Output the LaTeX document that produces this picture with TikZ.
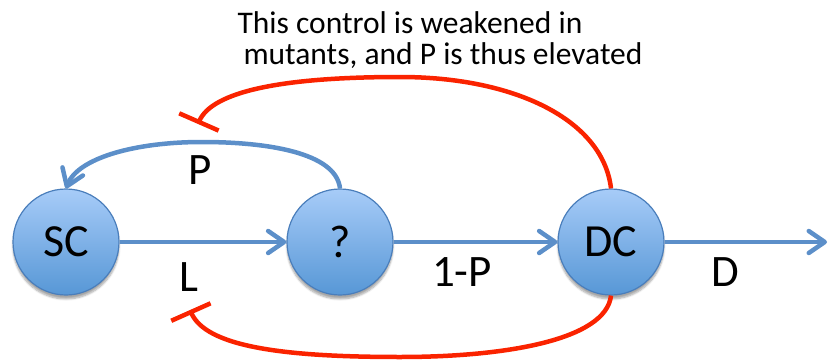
\documentclass[tikz,border=0pt]{standalone}
\usepackage{fontspec}
\setmainfont{Carlito}
\usetikzlibrary{arrows.meta,shadows.blur}
\definecolor{cellTop}{HTML}{A7CCF8}
\definecolor{cellBot}{HTML}{5797D6}
\definecolor{cellEdge}{HTML}{4A7EBB}
\definecolor{flowBlue}{HTML}{5C8FC9}
\definecolor{inhibRed}{HTML}{FA2300}
\tikzset{
  cell/.style={circle, minimum size=106pt, inner sep=0pt, draw=cellEdge, line width=1.2pt,
    top color=cellTop, bottom color=cellBot,
    blur shadow={shadow xshift=0pt, shadow yshift=-4pt, shadow blur steps=6, shadow opacity=35},
    font=\fontsize{46}{52}\selectfont},
  flow/.style={draw=flowBlue, line width=4.5pt, -{Straight Barb[length=16pt,width=22pt,line width=4.5pt,round]}},
  inhib/.style={draw=inhibRed, line width=4.5pt, -{Bar[width=43pt,line width=4.5pt]}},
  rate/.style={font=\fontsize{45}{50}\selectfont, inner sep=0pt},
  note/.style={font=\fontsize{31.5}{36}\selectfont, inner sep=0pt}
}
\begin{document}
\begin{tikzpicture}[x=1pt,y=-1pt]
\useasboundingbox (0,0) rectangle (829,361);
% cell compartments
\node[cell] (sc) at (66,242) {SC};
\node[cell] (q)  at (340,242) {?};
\node[cell] (dc) at (611,242) {DC};
\coordinate (out) at (827,242);
% forward flows
\draw[flow] (sc.east) -- (q.west);
\draw[flow] (q.east) -- (dc.west);
\draw[flow] (dc.east) -- (out);
% self-renewal feedback
\draw[flow] (q.north) .. controls (336,152) and (265,142) .. (202,142)
  .. controls (135,142) and (78,158) .. (sc.north);
% inhibitory feedback from DC
\draw[inhib] (dc.north) .. controls (603,120) and (515,77) .. (400,77)
  .. controls (280,77) and (212,92) .. (198,124);
\draw[inhib] (dc.south) .. controls (606,340) and (505,357) .. (400,357)
  .. controls (280,357) and (206,346) .. (190,310);
% rate labels
\node[rate] (lp) at (200,170) {P};
\node[rate] (ll) at (189,277) {L};
\node[rate] (l1p) at (462,272) {1-P};
\node[rate] (ld) at (725,272) {D};
% annotation
\node[note] (n1) at (410,23) {This control is weakened in};
\node[note] (n2) at (443,56) {mutants, and P is thus elevated};
\end{tikzpicture}
\end{document}
